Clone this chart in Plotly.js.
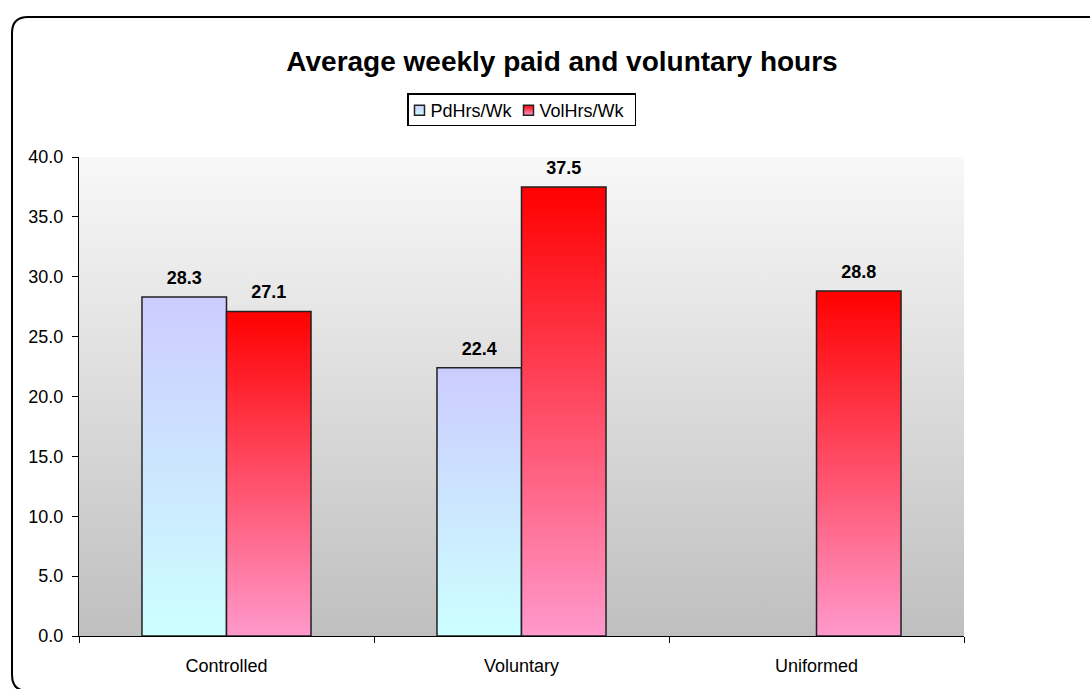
<!DOCTYPE html>
<html>
<head>
<meta charset="utf-8">
<script src="https://cdn.plot.ly/plotly-3.0.1.min.js"></script>
<style>html,body{margin:0;padding:0;background:#fff;}#chart{width:1090px;height:689px;}</style>
</head>
<body>
<div id="chart"></div>
<script>
var categories = ["Controlled", "Voluntary", "Uniformed"];
var seriesNames = ["PdHrs/Wk", "VolHrs/Wk"];
var pdHrs = [28.3, 22.4, null];
var volHrs = [27.1, 37.5, 28.8];
var yTickVals = [0, 5, 10, 15, 20, 25, 30, 35, 40];

var FONT = "Liberation Sans, Arial, sans-serif";

// margins in px
var mL = 79, mR = 126, mT = 157, mB = 53;
var W = 1090, H = 689;
var pw = W - mL - mR, ph = H - mT - mB;
function px(x){ return (x - mL) / pw; }
function py(y){ return (H - mB - y) / ph; }

// rounded outer border
var bl = px(12), br = px(1110), bt = py(17), bb = py(691);
var rx = 16 / pw, ry = 16 / ph;
var borderPath = "M " + br + "," + bt +
  " L " + (bl + rx) + "," + bt +
  " Q " + bl + "," + bt + " " + bl + "," + (bt - ry) +
  " L " + bl + "," + (bb + ry) +
  " Q " + bl + "," + bb + " " + (bl + rx) + "," + bb +
  " L " + br + "," + bb;

var common = {
  type: "bar",
  x: categories,
  texttemplate: "%{y:.1f}",
  textposition: "outside",
  cliponaxis: false,
  textfont: {family: FONT, size: 18, color: "#000", weight: "bold"},
  hoverinfo: "none"
};

var traces = [
  Object.assign({}, common, {
    name: seriesNames[0], y: pdHrs,
    marker: {color: "#cce6ff", line: {color: "#222", width: 1.5}}
  }),
  Object.assign({}, common, {
    name: seriesNames[1], y: volHrs,
    marker: {color: "#ff4d7a", line: {color: "#222", width: 1.5}}
  })
];

var layout = {
  width: W, height: H,
  margin: {l: mL, r: mR, t: mT, b: mB, pad: 0},
  paper_bgcolor: "#ffffff",
  plot_bgcolor: "#e0e0e0",
  font: {family: FONT, size: 18, color: "#000"},
  title: {
    text: "<b>Average weekly paid and voluntary hours</b>",
    font: {family: FONT, size: 28, color: "#000"},
    x: 562 / W, xanchor: "center",
    y: 1 - 61 / H, yanchor: "middle", yref: "container"
  },
  barmode: "group",
  bargap: 0.427,
  bargroupgap: 0,
  showlegend: true,
  legend: {
    orientation: "h",
    x: 0.5, xanchor: "center",
    y: py(93), yanchor: "top",
    bordercolor: "#000", borderwidth: 1.5,
    bgcolor: "#fff",
    font: {family: FONT, size: 18, color: "#000"},
    itemwidth: 30,
    tracegroupgap: 0,
    traceorder: "normal"
  },
  xaxis: {
    type: "category",
    showline: true, linecolor: "#000", linewidth: 1,
    ticks: "outside", ticklen: 6, tickcolor: "#000", tickwidth: 1,
    tickson: "boundaries",
    ticklabelstandoff: 13,
    showgrid: false, zeroline: false,
    tickfont: {family: FONT, size: 18, color: "#000"}
  },
  yaxis: {
    range: [0, 40],
    tickvals: yTickVals,
    tickformat: ".1f",
    showline: true, linecolor: "#000", linewidth: 1,
    ticks: "outside", ticklen: 6, tickcolor: "#000", tickwidth: 1,
    ticklabelstandoff: 5,
    showgrid: false, zeroline: false,
    tickfont: {family: FONT, size: 18, color: "#000"}
  },
  shapes: [{
    type: "path", xref: "paper", yref: "paper",
    path: borderPath,
    line: {color: "#000", width: 2}, layer: "above"
  }]
};

var gradDefs = {
  gBg: [["0", "#f8f8f8"], ["1", "#bfbfbf"]],
  gT0: [["0", "#ccccff"], ["1", "#ccffff"]],
  gT1: [["0", "#ff0000"], ["1", "#ff99cc"]]
};

function parseT(el){
  var m = /translate\(\s*([-\d.e]+)[\s,]+([-\d.e]+)\s*\)/.exec(el.getAttribute("transform") || "");
  return m ? [parseFloat(m[1]), parseFloat(m[2])] : [0, 0];
}

function applyGradients(gd){
  var ns = "http://www.w3.org/2000/svg";
  var svg = gd.querySelector("svg.main-svg");
  if(!svg) return;
  var defs = svg.querySelector("defs");
  if(!defs){ defs = document.createElementNS(ns, "defs"); svg.insertBefore(defs, svg.firstChild); }
  Object.keys(gradDefs).forEach(function(id){
    if(document.getElementById(id)) return;
    var g = document.createElementNS(ns, "linearGradient");
    g.setAttribute("id", id);
    g.setAttribute("x1", "0"); g.setAttribute("y1", "0");
    g.setAttribute("x2", "0"); g.setAttribute("y2", "1");
    gradDefs[id].forEach(function(s){
      var st = document.createElementNS(ns, "stop");
      st.setAttribute("offset", s[0]);
      st.setAttribute("stop-color", s[1]);
      g.appendChild(st);
    });
    defs.appendChild(g);
  });
  var bg = gd.querySelector(".bglayer rect.bg") || gd.querySelector("rect.bg");
  if(bg) bg.style.fill = "url(#gBg)";
  gd.querySelectorAll(".barlayer .trace.bars").forEach(function(tr, i){
    tr.querySelectorAll(".point path").forEach(function(p){ p.style.fill = "url(#gT" + i + ")"; });
    // lift the value labels a little higher above the bars
    tr.querySelectorAll("text.bartext").forEach(function(t){
      var tf = t.getAttribute("transform") || "";
      t.setAttribute("transform", "translate(0,-6) " + tf);
    });
  });

  // compact legend styling (closer swatches, tighter box)
  var leg = gd.querySelector("g.legend");
  if(leg){
    var shifts = [-18, -36];
    leg.querySelectorAll("g.traces").forEach(function(t, i){
      var p = parseT(t);
      t.setAttribute("transform", "translate(" + (p[0] + (shifts[i] || 0)) + "," + (p[1] - 2.5) + ")");
      t.querySelectorAll(".legendpoints path").forEach(function(pt){
        pt.style.fill = "url(#gT" + i + ")";
        var tf = pt.getAttribute("transform") || "";
        pt.setAttribute("transform", "translate(9,0) " + tf);
        pt.setAttribute("d", "M5,5H-5V-5H5Z");
      });
    });
    var boxW = 229, boxH = 33;
    var r = leg.querySelector("rect.bg");
    if(r){
      r.setAttribute("width", boxW - 1.5);
      r.setAttribute("height", boxH - 1.5);
    }
    var lp = parseT(leg);
    leg.setAttribute("transform", "translate(" + (mL + pw / 2 - boxW / 2) + "," + lp[1] + ")");
  }
}

var gd = document.getElementById("chart");
Plotly.newPlot(gd, traces, layout, {staticPlot: true, displayModeBar: false}).then(function(){
  applyGradients(gd);
});
</script>
</body>
</html>
